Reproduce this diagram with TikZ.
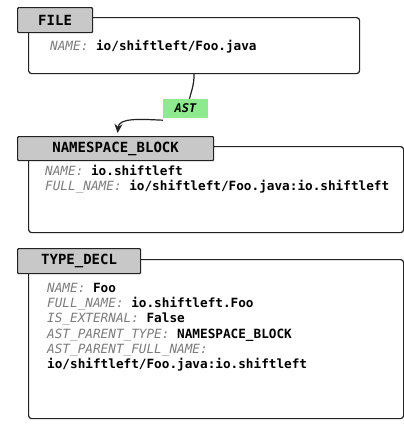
\documentclass[tikz,border=0pt]{standalone}
\usepackage{fontspec}
\setmonofont{DejaVu Sans Mono}
\usetikzlibrary{arrows.meta}
\definecolor{tabgray}{HTML}{C8C8C8}
\definecolor{keygray}{HTML}{7C7C7C}
\definecolor{astgreen}{HTML}{8FEA8F}
\definecolor{edgeblack}{HTML}{222222}
\newcommand\propkey[1]{{\color{keygray}\mdseries\itshape #1}}
\tikzset{
  body/.style={draw=edgeblack, line width=1.2pt, rounded corners=3pt, fill=white,
    anchor=north west, inner sep=0pt},
  tab/.style={draw=edgeblack, line width=1.2pt, fill=tabgray, rounded corners=1pt,
    anchor=north west, inner sep=0pt,
    font=\ttfamily\bfseries\fontsize{14}{16}\selectfont},
  props/.style={anchor=north west, align=left, inner sep=0pt,
    font=\ttfamily\bfseries\fontsize{12.7}{15.2}\selectfont},
  edgelabel/.style={fill=astgreen, inner sep=0pt, minimum width=45pt, minimum height=19pt,
    font=\ttfamily\bfseries\itshape\fontsize{12}{14}\selectfont},
  astedge/.style={draw=edgeblack, line width=1.2pt},
}
\begin{document}
\begin{tikzpicture}[x=1pt,y=-1pt]
\useasboundingbox (0,0) rectangle (404,426);
\fill[white] (0,0) rectangle (404,426);

% FILE node
\node[body, minimum width=331pt, minimum height=56pt] (file) at (28,17) {};
\node[tab, minimum width=75pt, minimum height=25pt] (filetab) at (17,7) {FILE};
\node[props] (fileprops) at (50,40) {\propkey{NAME:} io/shiftleft/Foo.java};

% NAMESPACE_BLOCK node
\node[body, minimum width=375pt, minimum height=86pt] (ns) at (28,146) {};
\node[tab, minimum width=196pt, minimum height=24pt] (nstab) at (17,136) {NAMESPACE\_BLOCK};
\node[props] (nsprops) at (45,165) {\propkey{NAME:} io.shiftleft\\
\propkey{FULL\_NAME:} io/shiftleft/Foo.java:io.shiftleft};

% TYPE_DECL node
\node[body, minimum width=375pt, minimum height=159pt] (td) at (28,259) {};
\node[tab, minimum width=123pt, minimum height=25pt] (tdtab) at (17,248) {TYPE\_DECL};
\node[props] (tdprops) at (47,283) {\propkey{NAME:} Foo\\
\propkey{FULL\_NAME:} io.shiftleft.Foo\\
\propkey{IS\_EXTERNAL:} False\\
\propkey{AST\_PARENT\_TYPE:} NAMESPACE\_BLOCK\\
\propkey{AST\_PARENT\_FULL\_NAME:}\\
io/shiftleft/Foo.java:io.shiftleft};

% AST edge from FILE to NAMESPACE_BLOCK
\node[edgelabel] (ast) at (185.5,108.5) {AST};
\draw[astedge] (file.south) .. controls (194,86) and (191,92) .. ([xshift=4pt]ast.north);
\draw[astedge, -{Stealth[length=9pt,width=8pt]}] ([yshift=-2pt]ast.south west)
  .. controls (138,119) and (119,118) .. ([xshift=2pt,yshift=3pt]nstab.north);
\end{tikzpicture}
\end{document}
